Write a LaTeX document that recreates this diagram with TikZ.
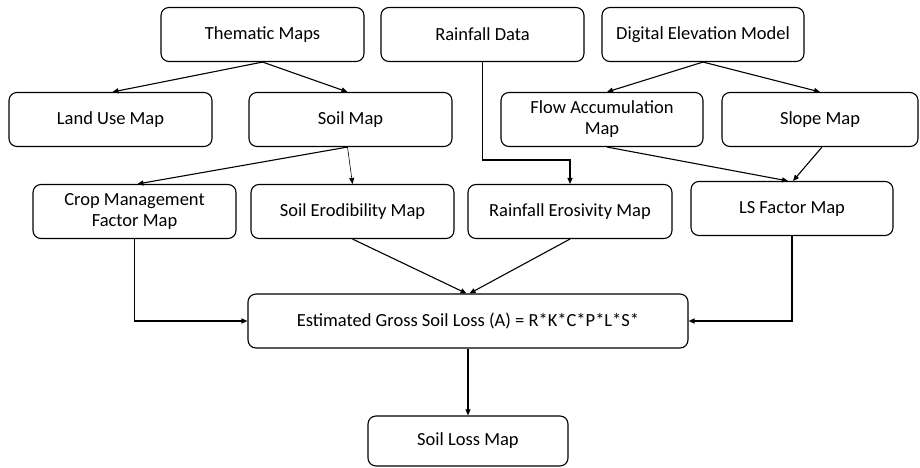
\documentclass[tikz,border=0pt]{standalone}
\usepackage{fontspec}
\setmainfont{Carlito}
\usetikzlibrary{arrows.meta}
\begin{document}
\begin{tikzpicture}[x=1pt,y=-1pt,
  box/.style={draw, line width=1.1pt, rounded corners=8pt, align=center, inner sep=2pt,
    font=\fontsize{18.5}{21}\selectfont, minimum height=54pt},
  arr/.style={draw, line width=1.1pt, -{Triangle[length=6pt,width=5pt]}}]
\useasboundingbox (0,0) rectangle (920,468);
\node[box, minimum width=203pt] (them) at (262.5,34.5) {Thematic Maps};
\node[box, minimum width=203pt] (rain) at (482.5,34.5) {Rainfall Data};
\node[box, minimum width=202pt] (dem) at (703,34.5) {Digital Elevation Model};
\node[box, minimum width=203pt] (land) at (110.5,119.5) {Land Use Map};
\node[box, minimum width=203pt] (soil) at (350.5,119.5) {Soil Map};
\node[box, minimum width=202pt] (flow) at (602,119.5) {Flow Accumulation\\Map};
\node[box, minimum width=196pt] (slope) at (820,119.5) {Slope Map};
\node[box, minimum width=203pt] (crop) at (134.5,211.5) {Crop Management\\Factor Map};
\node[box, minimum width=203pt] (erod) at (352.5,211.5) {Soil Erodibility Map};
\node[box, minimum width=204pt] (eros) at (570,211.5) {Rainfall Erosivity Map};
\node[box, minimum width=202pt] (ls) at (792,208.5) {LS Factor Map};
\node[box, minimum width=440pt] (est) at (468,321) {Estimated Gross Soil Loss (A) = R*K*C*P*L*S*};
\node[box, minimum width=200pt, minimum height=50pt] (loss) at (468,441) {Soil Loss Map};
\coordinate (rbend) at (570,160);
\draw[arr] (them.south) -- ([xshift=2pt]land.north);
\draw[arr] (them.south) -- ([xshift=-3pt]soil.north);
\draw[arr] ([xshift=-3pt]soil.south) -- ([xshift=3pt]crop.north);
\draw[arr, line width=0.6pt] ([xshift=-3pt]soil.south) -- (erod.north);
\draw[arr] (rain.south) |- (rbend) -- (eros.north);
\draw[arr] (dem.south) -- ([xshift=5pt]flow.north);
\draw[arr] (dem.south) -- (slope.north);
\draw[arr] ([xshift=5pt]flow.south) -- ([xshift=-4pt]ls.north);
\draw[arr] ([xshift=2pt]slope.south) -- ([xshift=1pt]ls.north);
\draw[arr] (crop.south) |- (est.west);
\draw[arr] (ls.south) |- (est.east);
\draw[arr] (erod.south) -- ([xshift=-1.5pt]est.north);
\draw[arr] (eros.south) -- ([xshift=1.5pt]est.north);
\draw[arr] (est.south) -- (loss.north);
\end{tikzpicture}
\end{document}
